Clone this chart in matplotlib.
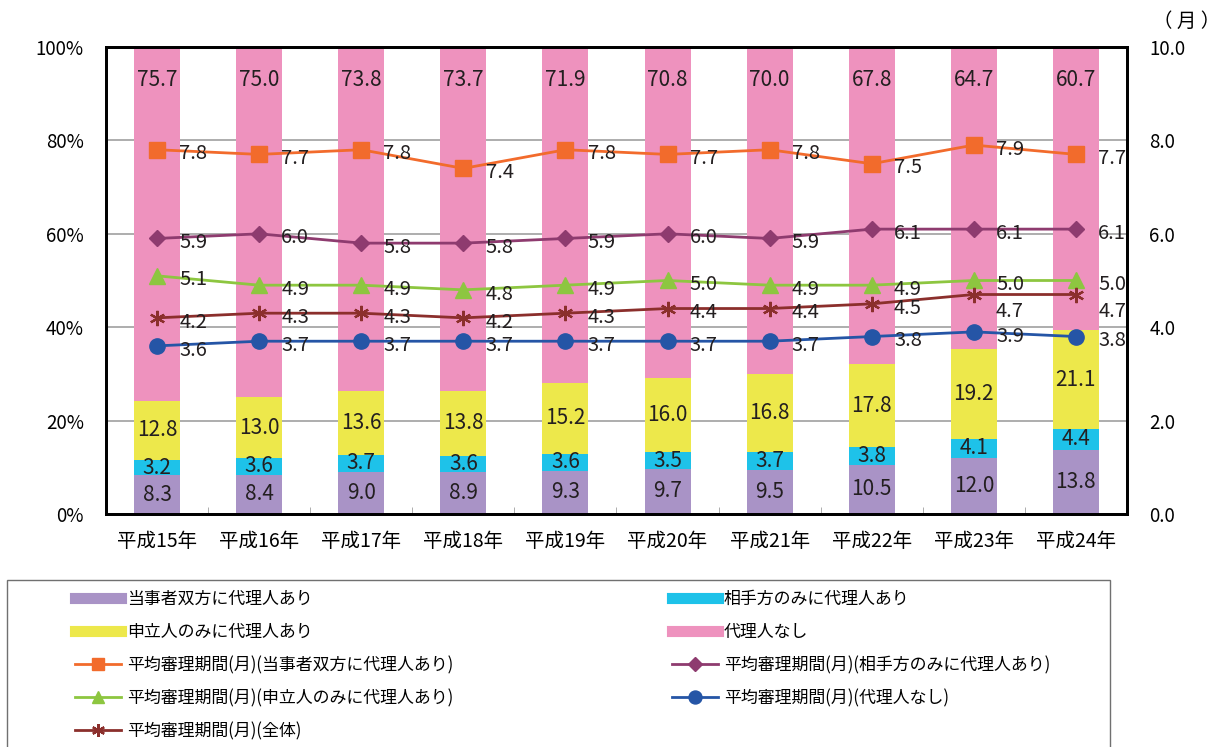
import matplotlib.pyplot as plt
import numpy as np
from matplotlib.lines import Line2D
from matplotlib.patches import Rectangle

plt.rcParams['font.family'] = ['Noto Sans CJK JP', 'DejaVu Sans']

years = ['平成15年', '平成16年', '平成17年', '平成18年', '平成19年',
         '平成20年', '平成21年', '平成22年', '平成23年', '平成24年']

# share of cases (%)
both = [8.3, 8.4, 9.0, 8.9, 9.3, 9.7, 9.5, 10.5, 12.0, 13.8]
resp_only = [3.2, 3.6, 3.7, 3.6, 3.6, 3.5, 3.7, 3.8, 4.1, 4.4]
appl_only = [12.8, 13.0, 13.6, 13.8, 15.2, 16.0, 16.8, 17.8, 19.2, 21.1]
none = [75.7, 75.0, 73.8, 73.7, 71.9, 70.8, 70.0, 67.8, 64.7, 60.7]

# average duration (months)
m_both = [7.8, 7.7, 7.8, 7.4, 7.8, 7.7, 7.8, 7.5, 7.9, 7.7]
m_resp = [5.9, 6.0, 5.8, 5.8, 5.9, 6.0, 5.9, 6.1, 6.1, 6.1]
m_appl = [5.1, 4.9, 4.9, 4.8, 4.9, 5.0, 4.9, 4.9, 5.0, 5.0]
m_all = [4.2, 4.3, 4.3, 4.2, 4.3, 4.4, 4.4, 4.5, 4.7, 4.7]
m_none = [3.6, 3.7, 3.7, 3.7, 3.7, 3.7, 3.7, 3.8, 3.9, 3.8]

bar_names = ['当事者双方に代理人あり', '相手方のみに代理人あり', '申立人のみに代理人あり', '代理人なし']
bar_colors = ['#A993C6', '#1EC2E9', '#EDE84B', '#EE92BE']

line_names = ['平均審理期間(月)(当事者双方に代理人あり)', '平均審理期間(月)(相手方のみに代理人あり)',
              '平均審理期間(月)(申立人のみに代理人あり)', '平均審理期間(月)(代理人なし)',
              '平均審理期間(月)(全体)']
line_colors = ['#F26B2C', '#8E3B6F', '#8DC640', '#2555A6', '#8B2F2C']
line_markers = ['s', 'D', '^', 'o', (6, 2, 0)]
line_msize = [11, 8, 11, 11, 11]

fig = plt.figure(figsize=(12.21, 7.47), dpi=100)
ax = fig.add_axes([0.0868, 0.3119, 0.8362, 0.6252])
x = np.arange(len(years))

ax.set_axisbelow(True)
ax.yaxis.grid(True, color='#A0A0A0', lw=1.2)
bottom = np.zeros(len(years))
series = [both, resp_only, appl_only, none]
for vals, col in zip(series, bar_colors):
    ax.bar(x, vals, 0.45, bottom=bottom, color=col, zorder=2)
    for i, v in enumerate(vals):
        if col == bar_colors[3]:
            ypos = 93
        else:
            ypos = bottom[i] + v / 2
        ax.text(i, ypos, f'{v:.1f}', ha='center', va='center', fontsize=15, color='#231F20', zorder=3)
    bottom += np.array(vals)

ax.set_xlim(-0.5, len(years) - 0.5)
ax.set_ylim(0, 100)
ax.set_yticks(np.arange(0, 101, 20))
ax.set_yticklabels([f'{t}%' for t in range(0, 101, 20)], fontsize=13.5)
ax.set_xticks(x)
ax.set_xticklabels(years, fontsize=14)
ax.set_xticks(np.arange(0.5, len(years) - 1, 1), minor=True)
ax.tick_params(axis='x', which='major', length=0, pad=12)
ax.tick_params(axis='x', which='minor', direction='in', length=5, color='#A0A0A0')
ax.tick_params(axis='y', length=0, pad=16)
for s in ax.spines.values():
    s.set_linewidth(2)

ax2 = ax.twinx()
ax2.set_ylim(0, 10)
ax2.set_yticks(np.arange(0, 10.1, 2))
ax2.set_yticklabels([f'{t:.1f}' for t in np.arange(0, 10.1, 2)], fontsize=13.5)
ax2.tick_params(axis='y', length=0, pad=16)
for s in ax2.spines.values():
    s.set_linewidth(2)

lines = [m_both, m_resp, m_appl, m_none, m_all]
for vals, col, mk, ms in zip(lines, line_colors, line_markers, line_msize):
    ax2.plot(x, vals, color=col, lw=2, marker=mk, markersize=ms,
             markeredgewidth=1.6 if mk == (6, 2, 0) else 1, markeredgecolor=col, zorder=4)
    for i, v in enumerate(vals):
        dy = -3
        if vals is m_all and i >= 8:
            dy = -12
        ax2.annotate(f'{v:.1f}', (i, v), xytext=(16, dy), textcoords='offset points',
                     ha='left', va='center', fontsize=14.5, color='#231F20', zorder=5)

fig.text(0.972, 0.972, '（ 月 ）', ha='center', va='center', fontsize=14)

# legend box
fig.patches.append(Rectangle((7 / 1221, -0.01), 1103 / 1221, 1 - 580 / 747 + 0.01,
                             transform=fig.transFigure, fill=False, edgecolor='#707070', lw=1))

bar_h = [Line2D([], [], color=c, lw=8) for c in bar_colors]
line_h = [Line2D([], [], color=c, lw=2, marker=m, markersize=ms * 0.85, markeredgecolor=c,
                 markeredgewidth=1.6 if m == (6, 2, 0) else 1)
          for c, m, ms in zip(line_colors, line_markers, line_msize)]

h1 = [bar_h[0], bar_h[2], line_h[0], line_h[2], line_h[4]]
l1 = [bar_names[0], bar_names[2], line_names[0], line_names[2], line_names[4]]
h2 = [bar_h[1], bar_h[3], line_h[1], line_h[3]]
l2 = [bar_names[1], bar_names[3], line_names[1], line_names[3]]

leg_kw = dict(loc='upper left', frameon=False, fontsize=12.2, handlelength=2.7, handletextpad=0.35,
              labelspacing=0.88, borderpad=0, borderaxespad=0)
fig.legend(h1, l1, bbox_to_anchor=(75 / 1221, 1 - 590 / 747), **leg_kw)
fig.legend(h2, l2, bbox_to_anchor=(672 / 1221, 1 - 590 / 747), **leg_kw)

fig.savefig('out.png', dpi=100)
